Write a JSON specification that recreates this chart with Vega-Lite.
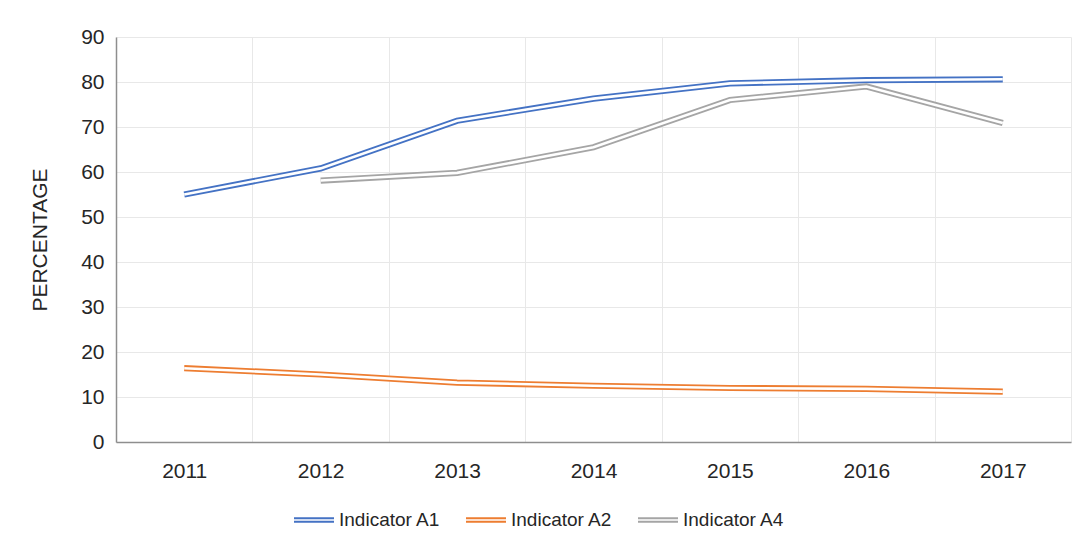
{
  "$schema": "https://vega.github.io/schema/vega-lite/v6.json",
  "autosize": {"type": "none"},
  "width": 955,
  "height": 405,
  "padding": {"left": 116, "top": 37, "right": 17, "bottom": 108},
  "background": "white",
  "config": {
    "view": {"stroke": null},
    "font": "Liberation Sans",
    "axis": {"labelFont": "Liberation Sans", "titleFont": "Liberation Sans", "labelColor": "#262626", "titleColor": "#262626"}
  },
  "data": {
    "values": [
      {"year": "2011", "series": "Indicator A1", "value": 55.0},
      {"year": "2012", "series": "Indicator A1", "value": 60.8},
      {"year": "2013", "series": "Indicator A1", "value": 71.4},
      {"year": "2014", "series": "Indicator A1", "value": 76.3},
      {"year": "2015", "series": "Indicator A1", "value": 79.7},
      {"year": "2016", "series": "Indicator A1", "value": 80.4},
      {"year": "2017", "series": "Indicator A1", "value": 80.6},
      {"year": "2011", "series": "Indicator A2", "value": 16.4},
      {"year": "2012", "series": "Indicator A2", "value": 15.0},
      {"year": "2013", "series": "Indicator A2", "value": 13.2},
      {"year": "2014", "series": "Indicator A2", "value": 12.5},
      {"year": "2015", "series": "Indicator A2", "value": 12.0},
      {"year": "2016", "series": "Indicator A2", "value": 11.8},
      {"year": "2017", "series": "Indicator A2", "value": 11.2},
      {"year": "2012", "series": "Indicator A4", "value": 58.1},
      {"year": "2013", "series": "Indicator A4", "value": 59.8},
      {"year": "2014", "series": "Indicator A4", "value": 65.5},
      {"year": "2015", "series": "Indicator A4", "value": 76.0},
      {"year": "2016", "series": "Indicator A4", "value": 79.0},
      {"year": "2017", "series": "Indicator A4", "value": 70.9}
    ]
  },
  "encoding": {
    "x": {
      "field": "year", "type": "ordinal",
      "scale": {"type": "band", "paddingInner": 0, "paddingOuter": 0},
      "axis": {
        "title": null, "labelAngle": 0, "labelFontSize": 21, "labelPadding": 18,
        "tickBand": "extent", "ticks": false, "grid": true, "gridColor": "#e8e8e8", "gridWidth": 1,
        "domainColor": "#8e8e8e", "domainWidth": 1.5
      }
    },
    "y": {
      "field": "value", "type": "quantitative",
      "scale": {"domain": [0, 90], "nice": false},
      "axis": {
        "title": "PERCENTAGE", "titleFontSize": 21, "titleFontWeight": "normal", "titlePadding": 30,
        "values": [0, 10, 20, 30, 40, 50, 60, 70, 80, 90],
        "labelFontSize": 21, "labelPadding": 12, "ticks": false,
        "grid": true, "gridColor": "#e8e8e8", "gridWidth": 1,
        "domainColor": "#8e8e8e", "domainWidth": 1.5
      }
    }
  },
  "layer": [
    {
      "mark": {"type": "line", "strokeWidth": 6.2, "strokeJoin": "miter"},
      "encoding": {
        "color": {
          "field": "series", "type": "nominal",
          "scale": {"domain": ["Indicator A1", "Indicator A2", "Indicator A4"], "range": ["#4472C4", "#ED7D31", "#A5A5A5"]},
          "legend": {
            "title": null, "orient": "none", "direction": "horizontal",
            "legendX": 177, "legendY": 462, "padding": 0,
            "symbolType": "M-1,-0.085L1,-0.085M-1,0.085L1,0.085",
            "symbolSize": 1600, "symbolStrokeWidth": 1.9, "symbolFillColor": "transparent",
            "labelFontSize": 19, "labelColor": "#262626", "labelOffset": 4,
            "columnPadding": 21
          }
        }
      }
    },
    {
      "mark": {"type": "line", "strokeWidth": 2.6, "color": "white", "strokeJoin": "miter"},
      "encoding": {
        "detail": {"field": "series", "type": "nominal"}
      }
    }
  ]
}
